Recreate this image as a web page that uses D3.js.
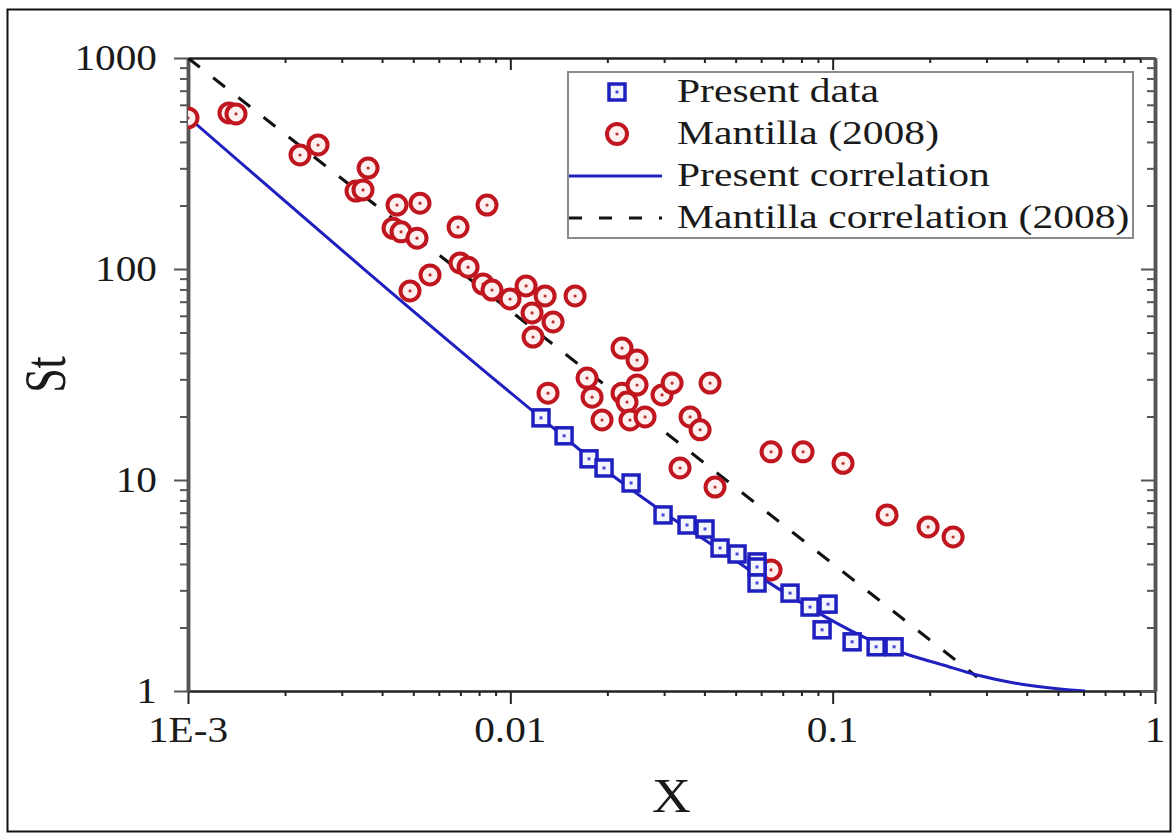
<!DOCTYPE html>
<html>
<head>
<meta charset="utf-8">
<script src="https://cdn.jsdelivr.net/npm/d3@7"></script>
<style>
  body { margin: 0; background: #fff; }
  text { font-family: "Liberation Serif", "Times New Roman", serif; fill: #1a1a1a; }
</style>
</head>
<body>
<svg id="chart" width="1173" height="834"></svg>
<script>
// present data (squares)
var presentX = [0.01245, 0.01468, 0.01754, 0.01953, 0.02369, 0.02977, 0.03533, 0.04018, 0.04473, 0.05051,
                0.05826, 0.05826, 0.05826, 0.07375, 0.08508, 0.09676, 0.09271, 0.1149, 0.1364, 0.1551];
var presentSt = [19.7, 16.2, 12.6, 11.4, 9.68, 6.83, 6.12, 5.86, 4.76, 4.46,
                 4.09, 3.87, 3.25, 2.91, 2.50, 2.58, 1.95, 1.71, 1.62, 1.62];

// Mantilla (2008) (circles)
var mantillaX = [0.001, 0.00134, 0.001409, 0.002226, 0.002532, 0.00362, 0.003321, 0.003491, 0.004451, 0.004326,
                 0.004581, 0.005134, 0.005245, 0.008466, 0.006883, 0.006982, 0.007394, 0.005635, 0.004884, 0.008228,
                 0.008773, 0.01119, 0.00998, 0.01282, 0.01588, 0.01168, 0.01357, 0.01176, 0.02221, 0.02472,
                 0.0173, 0.01309, 0.01793, 0.02221, 0.02472, 0.02302, 0.02956, 0.03176, 0.04165, 0.01925,
                 0.02351, 0.02618, 0.03611, 0.03879, 0.03361, 0.04316, 0.0644, 0.0644, 0.08095, 0.1077,
                 0.1475, 0.1977, 0.2364];
var mantillaSt = [520, 549, 543, 347, 387, 301, 234, 237, 201, 156,
                  150, 140, 205, 201, 158, 106.8, 102, 93.7, 78.7, 84.9,
                  79.5, 83.1, 72.1, 74.5, 74.5, 61.9, 56.1, 47.6, 42.2, 37.0,
                  30.4, 25.8, 24.7, 25.8, 28.2, 23.4, 25.3, 28.8, 28.8, 19.25,
                  19.25, 19.9, 19.9, 17.3, 11.4, 9.26, 13.6, 3.75, 13.6, 12.0,
                  6.83, 5.99, 5.37];

// present correlation (solid line)
var corrX = [0.001, 0.01245, 0.01898, 0.02914, 0.04473, 0.05826, 0.07375, 0.0914, 0.1306, 0.1654,
             0.2201, 0.2805, 0.3815, 0.5076, 0.6068];
var corrSt = [525, 19.7, 11.65, 7.21, 4.66, 3.55, 2.82, 2.32, 1.745, 1.514,
              1.328, 1.191, 1.079, 1.022, 1.0];

// Mantilla correlation (2008) (dashed line)
var mantCorrX = [0.001, 0.2805];
var mantCorrSt = [1000, 1.165];

var xMajor = [0.001, 0.01, 0.1, 1];
var xLabels = ["1E-3", "0.01", "0.1", "1"];
var yMajor = [1, 10, 100, 1000];
var yLabels = ["1", "10", "100", "1000"];
var legendLabels = ["Present data", "Mantilla (2008)", "Present correlation", "Mantilla correlation (2008)"];

var blue = "#2020c0", red = "#c0161f";

var svg = d3.select("#chart");
var pLeft = 188, pRight = 1155, pTop = 58, pBottom = 691;

var x = d3.scaleLog().domain([0.001, 1]).range([pLeft, pRight]);
var y = d3.scaleLog().domain([1, 1000]).range([pBottom, pTop]);

// outer frame
svg.append("rect")
    .attr("x", 7.5).attr("y", 9.5)
    .attr("width", 1163).attr("height", 822)
    .attr("fill", "none").attr("stroke", "#111").attr("stroke-width", 2);

function minors(majors) {
    var out = [];
    majors.slice(0, -1).forEach(function (m) {
        for (var k = 2; k <= 9; k++) out.push(m * k);
    });
    return out;
}
var xMinor = minors(xMajor), yMinor = minors(yMajor);

function axisPart(axisFn, scale, values, size, translate, color, width) {
    var g = svg.append("g")
        .attr("transform", translate)
        .call(axisFn(scale).tickValues(values).tickSize(size).tickSizeOuter(0).tickFormat(""));
    g.select(".domain").attr("stroke", color).attr("stroke-width", width);
    g.selectAll(".tick line").attr("stroke", color).attr("stroke-width", 2);
    g.selectAll(".tick text").remove();
    return g;
}

// bottom (outward) and top (inward)
axisPart(d3.axisBottom, x, xMinor, 5, "translate(0," + pBottom + ")", "#222", 2);
axisPart(d3.axisBottom, x, xMajor, 13, "translate(0," + pBottom + ")", "#222", 2);
axisPart(d3.axisTop, x, xMinor, -5, "translate(0," + pTop + ")", "#222", 2);
axisPart(d3.axisTop, x, xMajor, -12, "translate(0," + pTop + ")", "#222", 2);
// left (outward) and right (inward)
axisPart(d3.axisLeft, y, yMinor, 8, "translate(" + pLeft + ",0)", "#555", 3.5);
axisPart(d3.axisLeft, y, yMajor, 14, "translate(" + pLeft + ",0)", "#555", 3.5);
axisPart(d3.axisRight, y, yMinor, -8, "translate(" + pRight + ",0)", "#555", 3.5);
axisPart(d3.axisRight, y, yMajor, -14, "translate(" + pRight + ",0)", "#555", 3.5);

// tick labels
svg.selectAll(".xlab").data(xMajor).enter().append("text")
    .attr("class", "xlab")
    .attr("text-anchor", "middle")
    .attr("font-size", 35)
    .attr("transform", function (d) { return "translate(" + x(d) + "," + (pBottom + 51) + ") scale(1.18,1)"; })
    .text(function (d, i) { return xLabels[i]; });

svg.selectAll(".ylab").data(yMajor).enter().append("text")
    .attr("class", "ylab")
    .attr("text-anchor", "end")
    .attr("font-size", 35)
    .attr("dy", "0.33em")
    .attr("transform", function (d) { return "translate(" + (pLeft - 31) + "," + y(d) + ") scale(1.18,1)"; })
    .text(function (d, i) { return yLabels[i]; });

// axis titles
svg.append("text")
    .attr("text-anchor", "middle")
    .attr("font-size", 48)
    .attr("transform", "translate(" + ((pLeft + pRight) / 2) + ",812) scale(1.12,1)")
    .text("X");

svg.append("text")
    .attr("text-anchor", "middle")
    .attr("font-size", 44)
    .attr("transform", "translate(65," + ((pTop + pBottom) / 2) + ") scale(1.35,1) rotate(-90)")
    .text("St");

// plot contents
svg.append("clipPath").attr("id", "clip")
    .append("rect").attr("x", pLeft).attr("y", pTop)
    .attr("width", pRight - pLeft).attr("height", pBottom - pTop);
var plot = svg.append("g").attr("clip-path", "url(#clip)");

var line = d3.line()
    .x(function (d) { return x(d[0]); })
    .y(function (d) { return y(d[1]); });

plot.append("path")
    .datum(d3.zip(mantCorrX, mantCorrSt))
    .attr("d", line)
    .attr("fill", "none").attr("stroke", "#111")
    .attr("stroke-width", 3).attr("stroke-dasharray", "15,17");

plot.append("path")
    .datum(d3.zip(corrX, corrSt))
    .attr("d", line.curve(d3.curveMonotoneX))
    .attr("fill", "none").attr("stroke", blue).attr("stroke-width", 3);

function circleMark(g, cx, cy, r) {
    g.append("circle").attr("cx", cx).attr("cy", cy).attr("r", r)
        .attr("fill", "#fdf0ef").attr("stroke", red).attr("stroke-width", 4);
    g.append("circle").attr("cx", cx).attr("cy", cy).attr("r", 1.6).attr("fill", "#b33");
}
function squareMark(g, cx, cy, s) {
    g.append("rect").attr("x", cx - s / 2).attr("y", cy - s / 2)
        .attr("width", s).attr("height", s)
        .attr("fill", "#f4f6ff").attr("stroke", blue).attr("stroke-width", 3.5);
    g.append("rect").attr("x", cx - 1.5).attr("y", cy - 1.5)
        .attr("width", 3).attr("height", 3).attr("fill", "#4a4ad0");
}

var gm = plot.append("g");
d3.zip(mantillaX, mantillaSt).forEach(function (d) {
    circleMark(gm, x(d[0]), y(d[1]), 9.5);
});
var gp = plot.append("g");
d3.zip(presentX, presentSt).forEach(function (d) {
    squareMark(gp, x(d[0]), y(d[1]), 16);
});

// legend
var lg = svg.append("g");
lg.append("rect")
    .attr("x", 568).attr("y", 72).attr("width", 565).attr("height", 166)
    .attr("fill", "#fff").attr("stroke", "#8a8a8a").attr("stroke-width", 2);

var rowY = [92, 134, 176, 218];
squareMark(lg, 617, rowY[0], 16);
circleMark(lg, 617, rowY[1], 10);
lg.append("line").attr("x1", 569).attr("x2", 662).attr("y1", rowY[2]).attr("y2", rowY[2])
    .attr("stroke", blue).attr("stroke-width", 3);
lg.append("line").attr("x1", 569).attr("x2", 662).attr("y1", rowY[3]).attr("y2", rowY[3])
    .attr("stroke", "#111").attr("stroke-width", 3).attr("stroke-dasharray", "13,17");

lg.selectAll(".legtext").data(legendLabels).enter().append("text")
    .attr("class", "legtext")
    .attr("font-size", 33)
    .attr("transform", function (d, i) { return "translate(677," + (rowY[i] + 10) + ") scale(1.26,1)"; })
    .text(function (d) { return d; });
</script>
</body>
</html>
